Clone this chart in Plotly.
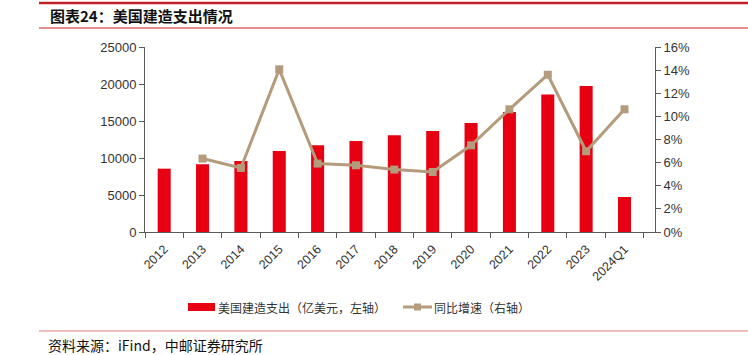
import plotly.graph_objects as go

categories = ["2012", "2013", "2014", "2015", "2016", "2017", "2018", "2019",
              "2020", "2021", "2022", "2023", "2024Q1"]
spending = [8560, 9150, 9600, 10950, 11720, 12300, 13070, 13650,
            14730, 16220, 18570, 19730, 4730]
growth_cats = categories[1:]
growth = [0.0635, 0.0554, 0.1407, 0.0592, 0.0577, 0.0540, 0.0519,
          0.0750, 0.1061, 0.1360, 0.0698, 0.1061]

W, H = 748, 355
L, R, T, B = 145, 655, 47, 232

def px(x):
    return (x - L) / (R - L)

def py(y):
    return (B - y) / (B - T)

BAR = "#E60012"
LINE = "#B39B7C"
AX = "#595959"
TXT = "#333333"
FONT = "Liberation Sans, Arial, Noto Sans CJK SC, sans-serif"
CJK = "Noto Sans CJK SC, sans-serif"

fig = go.Figure()
fig.add_trace(go.Bar(x=categories, y=spending, marker_color=BAR,
                     marker_line_width=0, name="美国建造支出（亿美元，左轴）",
                     showlegend=False))
fig.add_trace(go.Scatter(x=growth_cats, y=growth, yaxis="y2", mode="lines+markers",
                         line=dict(color=LINE, width=3),
                         marker=dict(symbol="square", size=8, color=LINE),
                         name="同比增速（右轴）", showlegend=False))

fig.update_layout(
    width=W, height=H,
    margin=dict(l=L, r=W - R, t=T, b=H - B),
    paper_bgcolor="white", plot_bgcolor="white",
    bargap=0.66,
    font=dict(family=FONT, size=12, color=TXT),
    xaxis=dict(type="category", tickangle=-45, tickson="boundaries",
               ticks="outside", ticklen=5, tickcolor=AX, ticklabelstandoff=4,
               showline=True, linecolor=AX, linewidth=1,
               showgrid=False, tickfont=dict(size=12.5, color=TXT, family=FONT)),
    yaxis=dict(range=[0, 25000], dtick=5000, tickformat="d", ticks="outside",
               ticklen=5, tickcolor=AX, showline=True, linecolor=AX, linewidth=1,
               showgrid=False, zeroline=False,
               tickfont=dict(size=13, color=TXT, family=FONT)),
    yaxis2=dict(range=[0, 0.16], dtick=0.02, tickformat=".0%", overlaying="y",
                side="right", ticks="outside", ticklen=5, tickcolor=AX,
                showline=True, linecolor=AX, linewidth=1, showgrid=False,
                zeroline=False, tickfont=dict(size=13, color=TXT, family=FONT)),
)

shapes = [
    dict(type="line", xref="paper", yref="paper", x0=px(39), x1=px(748),
         y0=py(3), y1=py(3), line=dict(color="#C0202A", width=2.5)),
    dict(type="line", xref="paper", yref="paper", x0=px(39), x1=px(748),
         y0=py(28), y1=py(28), line=dict(color="#E06666", width=1.5)),
    dict(type="line", xref="paper", yref="paper", x0=px(39), x1=px(748),
         y0=py(331), y1=py(331), line=dict(color="#E08080", width=1.2)),
    # legend swatches
    dict(type="rect", xref="paper", yref="paper", x0=px(188), x1=px(215),
         y0=py(311), y1=py(303), fillcolor=BAR, line=dict(width=0)),
    dict(type="line", xref="paper", yref="paper", x0=px(403), x1=px(432),
         y0=py(307), y1=py(307), line=dict(color=LINE, width=3)),
    dict(type="rect", xref="paper", yref="paper", x0=px(414), x1=px(421),
         y0=py(310.5), y1=py(303.5), fillcolor=LINE, line=dict(width=0)),
]
fig.update_layout(shapes=shapes)

annotations = [
    dict(text="<b>图表24：美国建造支出情况</b>", xref="paper", yref="paper",
         x=px(48), y=py(16), xanchor="left", yanchor="middle", showarrow=False,
         font=dict(family=CJK, size=15, color="#111111")),
    dict(text="美国建造支出（亿美元，左轴）", xref="paper", yref="paper",
         x=px(216), y=py(307), xanchor="left", yanchor="middle", showarrow=False,
         font=dict(family=CJK, size=12, color=TXT)),
    dict(text="同比增速（右轴）", xref="paper", yref="paper",
         x=px(432), y=py(307), xanchor="left", yanchor="middle", showarrow=False,
         font=dict(family=CJK, size=12, color=TXT)),
    dict(text="资料来源：iFind，中邮证券研究所", xref="paper", yref="paper",
         x=px(46), y=py(345), xanchor="left", yanchor="middle", showarrow=False,
         font=dict(family=CJK, size=14, color="#111111")),
]
fig.update_layout(annotations=annotations)

fig.write_html("out.html", config={"displayModeBar": False},
               post_script="document.body.style.margin='0';")
